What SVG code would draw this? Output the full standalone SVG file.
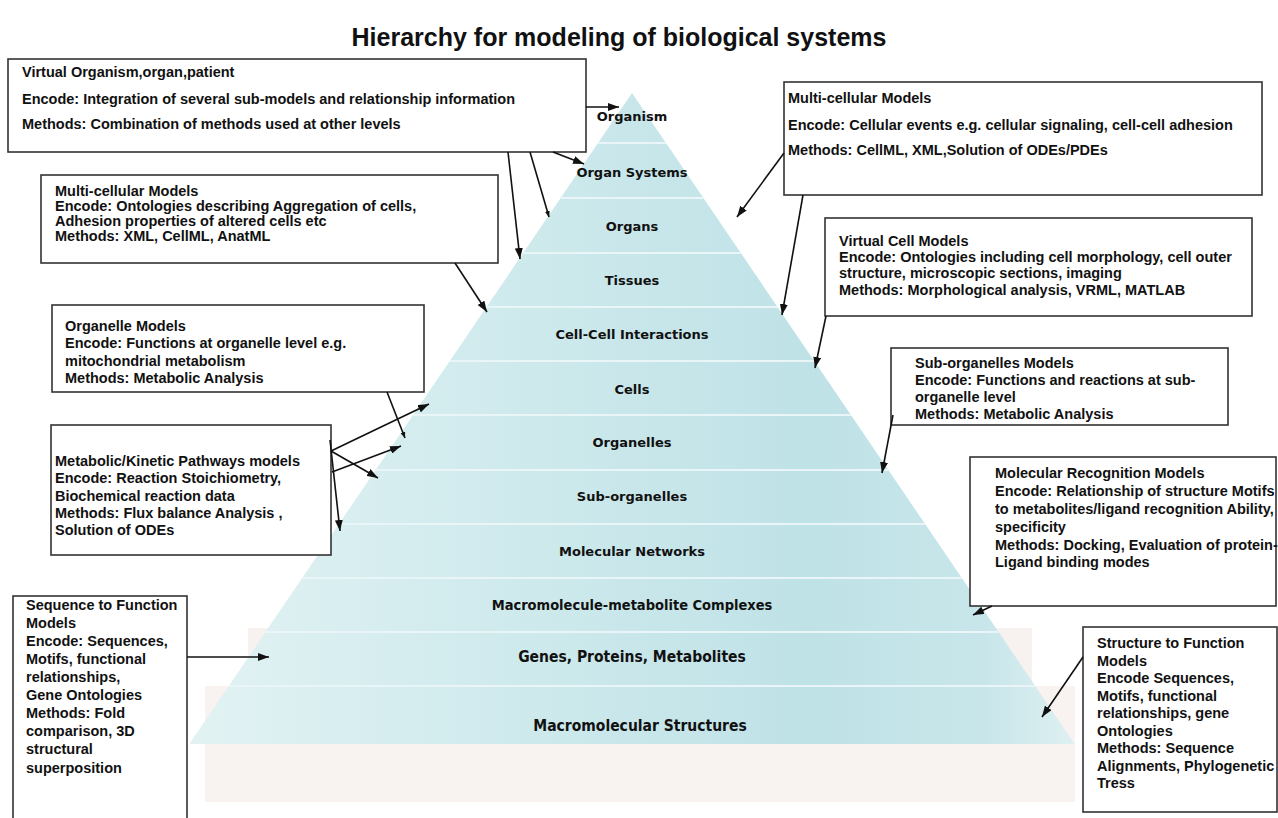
<svg xmlns="http://www.w3.org/2000/svg" width="1278" height="818" viewBox="0 0 1278 818">
<style>
.box{fill:#fff;stroke:#333;stroke-width:1.6}
.bt{font-family:"Liberation Sans",Arial,sans-serif;font-weight:bold;font-size:14.5px;fill:#111}
.pl{font-family:"DejaVu Sans",Verdana,sans-serif;font-weight:bold;font-size:13px;fill:#111;text-anchor:middle}
.plc{font-family:"DejaVu Sans Condensed","DejaVu Sans",sans-serif;font-stretch:condensed;font-weight:bold;fill:#111;text-anchor:middle}
.sep{stroke:#e9f5f6;stroke-width:1.8}
.con line{stroke:#111;stroke-width:1.6;fill:none}
.a{marker-end:url(#ah)}
.s{marker-end:url(#ahs)}
.title{font-family:"Liberation Sans",Arial,sans-serif;font-weight:bold;font-size:25px;fill:#111;text-anchor:middle}
</style>
<defs>
<linearGradient id="pg" gradientUnits="userSpaceOnUse" x1="189" y1="0" x2="1075" y2="0">
<stop offset="0" stop-color="#e2f2f3"/>
<stop offset="0.4" stop-color="#cde9ec"/>
<stop offset="0.7" stop-color="#bfe2e7"/>
<stop offset="0.9" stop-color="#c8e6ea"/>
<stop offset="1" stop-color="#dff0f2"/>
</linearGradient>
<marker id="ah" viewBox="0 0 11 8" refX="11" refY="4" markerWidth="11" markerHeight="8" markerUnits="userSpaceOnUse" orient="auto"><path d="M0,0 L11,4 L0,8 z" fill="#111"/></marker>
<marker id="ahs" viewBox="0 0 6 5" refX="6" refY="2.5" markerWidth="6" markerHeight="5" markerUnits="userSpaceOnUse" orient="auto"><path d="M0,0 L6,2.5 L0,5 z" fill="#111"/></marker>
</defs>
<rect width="1278" height="818" fill="#fff"/>
<text class="title" x="619" y="46">Hierarchy for modeling of biological systems</text>

<g id="pyramid">
<rect x="248" y="628" width="784" height="58" fill="#f7f1ef"/>
<rect x="205" y="686" width="870" height="116" fill="#f8f3f1"/>
<polygon points="632,93 1074.7,744 189.3,744" fill="url(#pg)"/>
<line class="sep" x1="598" y1="143" x2="666" y2="143"/>
<line class="sep" x1="560.6" y1="198" x2="703.4" y2="198"/>
<line class="sep" x1="523.2" y1="253" x2="740.8" y2="253"/>
<line class="sep" x1="486.5" y1="307" x2="777.5" y2="307"/>
<line class="sep" x1="449.8" y1="361" x2="814.2" y2="361"/>
<line class="sep" x1="413" y1="415" x2="851" y2="415"/>
<line class="sep" x1="375.6" y1="470" x2="888.4" y2="470"/>
<line class="sep" x1="338.9" y1="524" x2="925.1" y2="524"/>
<line class="sep" x1="302.2" y1="578" x2="961.8" y2="578"/>
<line class="sep" x1="265.5" y1="632" x2="998.5" y2="632"/>
<line class="sep" x1="228.8" y1="686" x2="1035.2" y2="686"/>
<text class="pl" x="632" y="121">Organism</text>
<text class="pl" x="632" y="177">Organ Systems</text>
<text class="pl" x="632" y="231">Organs</text>
<text class="pl" x="632" y="285">Tissues</text>
<text class="pl" x="632" y="339">Cell-Cell Interactions</text>
<text class="pl" x="632" y="394">Cells</text>
<text class="pl" x="632" y="447">Organelles</text>
<text class="pl" x="632" y="501">Sub-organelles</text>
<text class="pl" x="632" y="556">Molecular Networks</text>
<text class="plc" x="632" y="610" font-size="14.5">Macromolecule-metabolite Complexes</text>
<text class="plc" x="632" y="662" font-size="15.5">Genes, Proteins, Metabolites</text>
<text class="plc" x="640" y="731" font-size="15.5">Macromolecular Structures</text>
</g>

<g id="virtual-organism">
<rect class="box" x="8" y="59" width="578" height="93"/>
<text class="bt"><tspan x="22" y="77">Virtual Organism,organ,patient</tspan><tspan x="22" y="104">Encode: Integration of several sub-models and relationship information</tspan><tspan x="22" y="129">Methods: Combination of methods used at other levels</tspan></text>
</g>

<g id="multicellular-right">
<rect class="box" x="784" y="82" width="478" height="113"/>
<text class="bt"><tspan x="788" y="103">Multi-cellular Models</tspan><tspan x="788" y="130">Encode: Cellular events e.g. cellular signaling, cell-cell adhesion</tspan><tspan x="788" y="155">Methods: CellML, XML,Solution of ODEs/PDEs</tspan></text>
</g>

<g id="multicellular-left">
<rect class="box" x="41" y="175" width="457" height="88"/>
<text class="bt"><tspan x="55" y="196">Multi-cellular Models</tspan><tspan x="55" y="211">Encode: Ontologies describing Aggregation of cells,</tspan><tspan x="55" y="226">Adhesion properties of altered cells etc</tspan><tspan x="55" y="241">Methods: XML, CellML, AnatML</tspan></text>
</g>

<g id="virtual-cell">
<rect class="box" x="825" y="218" width="427" height="98"/>
<text class="bt"><tspan x="839" y="246">Virtual Cell Models</tspan><tspan x="839" y="262">Encode: Ontologies including cell morphology, cell outer</tspan><tspan x="839" y="278">structure, microscopic sections, imaging</tspan><tspan x="839" y="295">Methods: Morphological analysis, VRML, MATLAB</tspan></text>
</g>

<g id="organelle">
<rect class="box" x="52" y="305" width="372" height="87"/>
<text class="bt"><tspan x="65" y="331">Organelle Models</tspan><tspan x="65" y="348">Encode: Functions at organelle level e.g.</tspan><tspan x="65" y="366">mitochondrial metabolism</tspan><tspan x="65" y="383">Methods: Metabolic Analysis</tspan></text>
</g>

<g id="sub-organelles">
<rect class="box" x="891" y="348" width="337" height="77"/>
<text class="bt"><tspan x="915" y="368">Sub-organelles Models</tspan><tspan x="915" y="385">Encode: Functions and reactions at sub-</tspan><tspan x="915" y="402">organelle level</tspan><tspan x="915" y="419">Methods: Metabolic Analysis</tspan></text>
</g>

<g id="metabolic">
<rect class="box" x="51" y="425" width="280" height="130"/>
<text class="bt"><tspan x="55" y="466">Metabolic/Kinetic Pathways models</tspan><tspan x="55" y="483">Encode: Reaction Stoichiometry,</tspan><tspan x="55" y="501">Biochemical reaction data</tspan><tspan x="55" y="518">Methods: Flux balance Analysis ,</tspan><tspan x="55" y="535">Solution of ODEs</tspan></text>
</g>

<g id="molecular-recognition">
<rect class="box" x="970" y="457" width="306" height="149"/>
<text class="bt"><tspan x="995" y="478">Molecular Recognition Models</tspan><tspan x="995" y="496">Encode: Relationship of structure Motifs</tspan><tspan x="995" y="514">to metabolites/ligand recognition Ability,</tspan><tspan x="995" y="532">specificity</tspan><tspan x="995" y="550">Methods: Docking, Evaluation of protein-</tspan><tspan x="995" y="567">Ligand binding modes</tspan></text>
</g>

<g id="sequence-function">
<rect class="box" x="13" y="596" width="174" height="240"/>
<text class="bt"><tspan x="26" y="610">Sequence to Function</tspan><tspan x="26" y="628">Models</tspan><tspan x="26" y="646">Encode: Sequences,</tspan><tspan x="26" y="664">Motifs, functional</tspan><tspan x="26" y="682">relationships,</tspan><tspan x="26" y="700">Gene Ontologies</tspan><tspan x="26" y="718">Methods: Fold</tspan><tspan x="26" y="736">comparison, 3D</tspan><tspan x="26" y="754">structural</tspan><tspan x="26" y="773">superposition</tspan></text>
</g>

<g id="structure-function">
<rect class="box" x="1083" y="627" width="194" height="185"/>
<text class="bt"><tspan x="1097" y="648">Structure to Function</tspan><tspan x="1097" y="666">Models</tspan><tspan x="1097" y="683">Encode Sequences,</tspan><tspan x="1097" y="701">Motifs, functional</tspan><tspan x="1097" y="718">relationships, gene</tspan><tspan x="1097" y="736">Ontologies</tspan><tspan x="1097" y="753">Methods: Sequence</tspan><tspan x="1097" y="771">Alignments, Phylogenetic</tspan><tspan x="1097" y="788">Tress</tspan></text>
</g>

<g id="connectors" class="con">
<line class="a" x1="586" y1="107" x2="619" y2="107"/>
<line class="a" x1="553" y1="152" x2="584" y2="164"/>
<line class="a" x1="508" y1="152" x2="520" y2="259"/>
<line class="s" x1="530" y1="152" x2="549" y2="217"/>
<line class="a" x1="455" y1="263" x2="487" y2="312"/>
<line class="a" x1="784" y1="153" x2="737" y2="217"/>
<line class="a" x1="803" y1="195" x2="782" y2="315"/>
<line class="a" x1="826" y1="316" x2="815" y2="368"/>
<line class="s" x1="387" y1="392" x2="405" y2="438"/>
<line class="a" x1="331" y1="451" x2="429" y2="404"/>
<line class="a" x1="331" y1="451" x2="378" y2="478"/>
<line class="a" x1="332" y1="472" x2="401" y2="446"/>
<line class="a" x1="330" y1="440" x2="340" y2="531"/>
<line class="a" x1="893" y1="415" x2="882" y2="473"/>
<line class="a" x1="992" y1="606" x2="973" y2="615"/>
<line class="a" x1="187" y1="657" x2="269" y2="657"/>
<line class="a" x1="1083" y1="657" x2="1042" y2="717"/>
</g>
</svg>
